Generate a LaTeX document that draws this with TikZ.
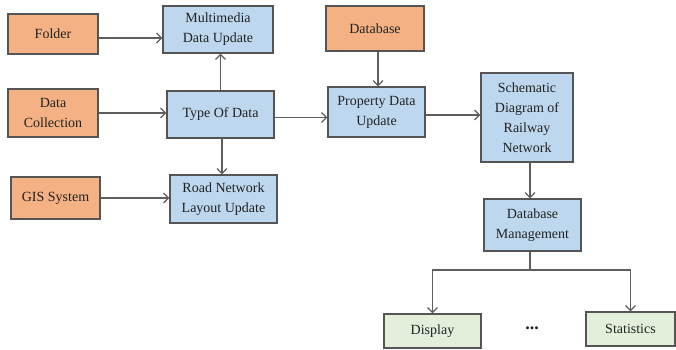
\documentclass[tikz,border=0pt]{standalone}
\usepackage{fontspec}
\setmainfont{Liberation Serif}
\usetikzlibrary{arrows.meta}
\definecolor{orfill}{HTML}{F4B183}
\definecolor{blfill}{HTML}{BDD7EE}
\definecolor{grfill}{HTML}{E2EFDA}
\definecolor{bord}{HTML}{555555}
\definecolor{linec}{HTML}{5E5E5E}
\definecolor{txt}{HTML}{222222}
\tikzset{
  x=1pt,y=-1pt,
  box/.style={draw=bord,line width=1.2pt,align=center,inner sep=1pt,text=txt,
    font=\fontsize{14}{20}\selectfont},
  obox/.style={box,fill=orfill},
  bbox/.style={box,fill=blfill},
  gbox/.style={box,fill=grfill},
  arr/.style={draw=linec,line width=1.7pt,-{Straight Barb[length=5pt,width=10pt,line width=1.2pt]}},
  plain/.style={draw=linec,line width=1.7pt}
}
\begin{document}
\begin{tikzpicture}
\useasboundingbox (0,0) rectangle (676,350);
\node[obox,minimum width=90pt,minimum height=40pt] (folder) at (53,34) {Folder};
\node[bbox,minimum width=110pt,minimum height=47pt] (mm) at (218,29.5) {Multimedia\\Data Update};
\node[obox,minimum width=90pt,minimum height=48pt] (dc) at (53,113) {Data\\Collection};
\node[bbox,minimum width=107pt,minimum height=47pt] (type) at (220.5,114.5) {Type Of Data};
\node[obox,minimum width=89pt,minimum height=42pt] (gis) at (55.5,198) {GIS System};
\node[bbox,minimum width=107pt,minimum height=48pt] (road) at (223.5,199) {Road Network\\Layout Update};
\node[obox,minimum width=98pt,minimum height=45pt] (db) at (375,28.5) {Database};
\node[bbox,minimum width=97pt,minimum height=50pt] (prop) at (376.5,112) {Property Data\\Update};
\node[bbox,minimum width=92pt,minimum height=89pt] (sch) at (527,117.5) {Schematic\\Diagram of\\Railway\\Network};
\node[bbox,minimum width=97pt,minimum height=52pt] (dbm) at (532.5,225) {Database\\Management};
\node[gbox,minimum width=97pt,minimum height=34pt] (disp) at (432.5,331) {Display};
\node[gbox,minimum width=89pt,minimum height=34pt] (stat) at (630.5,329) {Statistics};
\node[text=txt,font=\fontsize{18}{20}\selectfont\bfseries] (dots) at (532,328) {...};
\coordinate (split) at (530,270);

\draw[arr] ([yshift=-4pt]folder.east) -- ([yshift=-4pt]folder.east -| mm.west);
\draw[arr] (dc.east) -- (dc.east -| type.west);
\draw[arr] (gis.east) -- (gis.east -| road.west);
\draw[arr] (type.north) -- (type.north |- mm.south);
\draw[arr] ([xshift=1.5pt]type.south) -- ([xshift=1.5pt]type.south |- road.north);
\draw[arr] ([yshift=-3pt]type.east) -- ([yshift=-3pt]type.east -| prop.west);
\draw[arr] ([xshift=3pt]db.south) -- ([xshift=3pt]db.south |- prop.north);
\draw[arr] ([yshift=-3pt]prop.east) -- ([yshift=-3pt]prop.east -| sch.west);
\draw[arr] ([xshift=3pt]sch.south) -- ([xshift=3pt]sch.south |- dbm.north);
\draw[plain] (dbm.south -| split) -- (split);
\draw[arr] (split) -| (disp.north);
\draw[arr] (split) -| (stat.north);
\end{tikzpicture}
\end{document}
